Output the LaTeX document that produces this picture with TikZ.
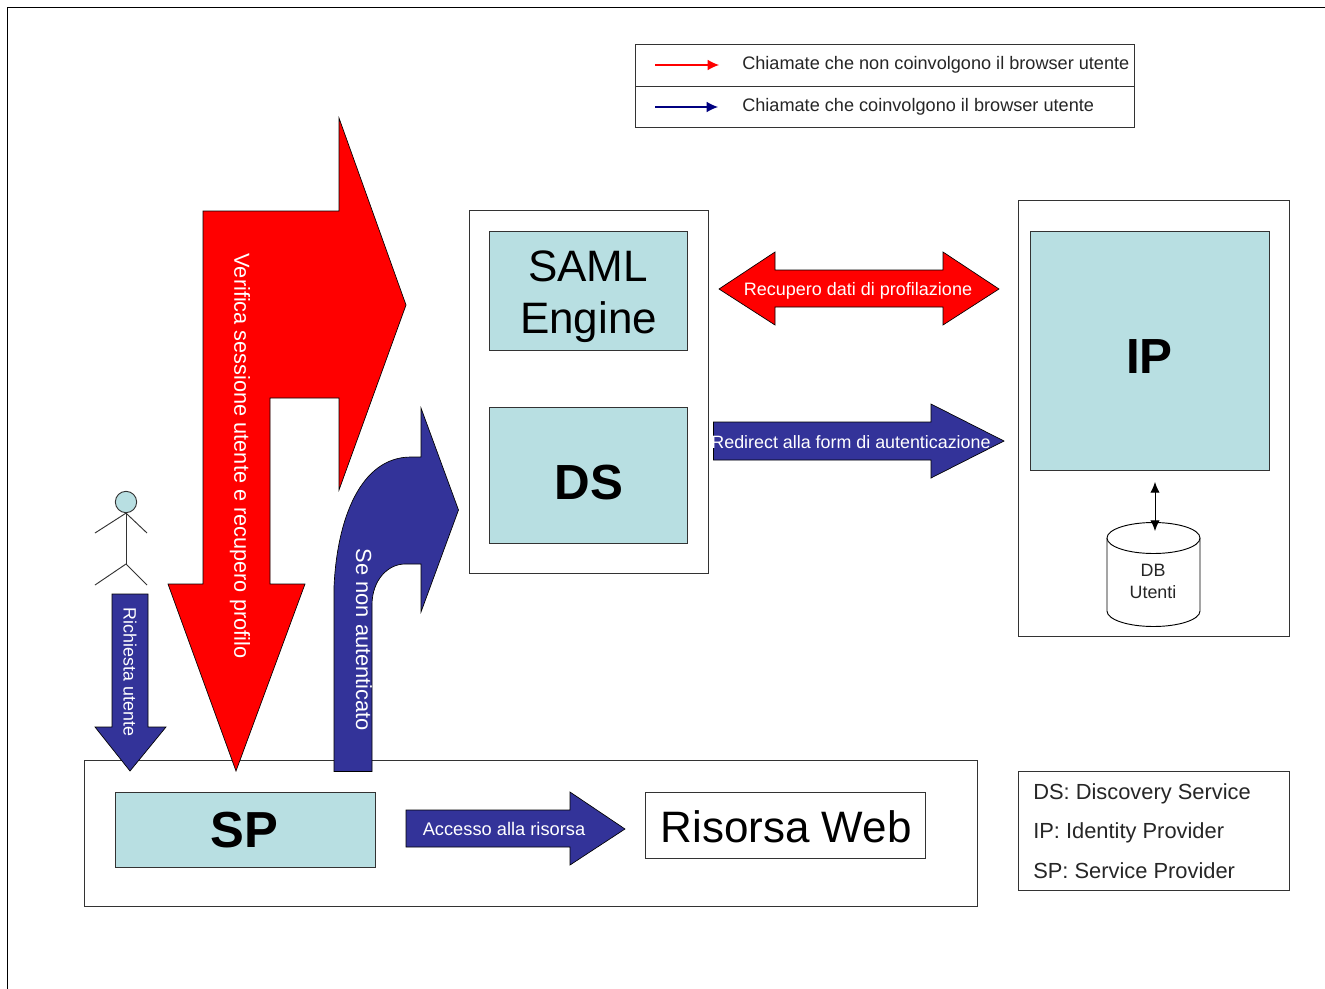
\documentclass[tikz,border=0pt]{standalone}
\usepackage{fontspec}
\setmainfont{Liberation Sans}
\usetikzlibrary{shapes.geometric,arrows.meta}
\definecolor{tealbox}{HTML}{B8DFE2}
\definecolor{navyarrow}{HTML}{333399}
\definecolor{redarrow}{HTML}{FF0000}
\definecolor{edge}{HTML}{333333}
\newcommand{\fs}[1]{\fontsize{#1}{#1}\selectfont}
\tikzset{
  frame/.style={draw=edge,line width=0.75pt,fill=white},
  boxt/.style={draw=edge,line width=0.65pt,fill=tealbox,inner sep=0pt,align=center},
  boxw/.style={draw=edge,line width=0.65pt,fill=white,inner sep=0pt,align=center},
  redshape/.style={fill=redarrow,draw=black,line width=0.5pt,line join=miter},
  blueshape/.style={fill=navyarrow,draw=black,line width=0.5pt,line join=miter},
  lab/.style={text=white,inner sep=0pt},
  stick/.style={draw=edge,line width=0.7pt},
  keytip/.style={-{Latex[length=8.5pt,width=8pt]},line width=0.8pt},
}
\begin{document}
\begin{tikzpicture}[x=0.75pt,y=-0.75pt]
\useasboundingbox (0,0) rectangle (1325,989);
\fill[white] (0,0) rectangle (1325,989);
% outer page frame
\draw[black,line width=1.2pt] (7.5,989) -- (7.5,7.5) -- (1325,7.5);

% legend
\draw[frame,fill=white] (635.5,44.5) rectangle (1134.5,127);
\draw[edge,line width=0.75pt] (635.5,86) -- (1134.5,86);
\coordinate (l1a) at (655,65); \coordinate (l1b) at (719,65);
\coordinate (l2a) at (655,107); \coordinate (l2b) at (718,107);
\draw[red,keytip] (l1a) -- (l1b);
\draw[blue!50!black,keytip] (l2a) -- (l2b);
\node[anchor=west,inner sep=0pt,text=black!85] (t1) at (742,65) {\fs{13.6}Chiamate che non coinvolgono il browser utente};
\node[anchor=west,inner sep=0pt,text=black!85] (t2) at (742,107) {\fs{13.6}Chiamate che coinvolgono il browser utente};

% SP container
\draw[frame] (84.5,760.5) rectangle (977.5,906);
\node[boxt,minimum width=195pt,minimum height=56.25pt] (sp) at (245.5,829.5) {};
\node[inner sep=0pt] (sptext) at (244,830) {\fs{38}\bfseries SP};
\node[boxw,minimum width=210pt,minimum height=49.5pt] (web) at (785.5,825) {};
\node[inner sep=0pt] (webtext) at (786,826.5) {\fs{33}Risorsa Web};

% Accesso arrow
\draw[blueshape] (406,810) -- (570,810) -- (570,792) -- (625,829) -- (570,865) -- (570,847) -- (406,847) -- cycle;
\node[lab] (acc) at (504,829) {\fs{13.7}Accesso alla risorsa};

% SAML / DS container
\draw[frame] (469.5,210.5) rectangle (708.5,573.5);
\node[boxt,minimum width=198pt,minimum height=119pt,minimum width=148.5pt,minimum height=89.25pt] (saml) at (588.5,291) {};
\node[inner sep=0pt] (samltext) at (588,266) {\fs{33}SAML};
\node[inner sep=0pt] (engtext) at (588.5,322) {\fs{33}Engine};
\node[boxt,minimum width=148.5pt,minimum height=102pt] (ds) at (588.5,475.5) {};
\node[inner sep=0pt] (dstext) at (589,483) {\fs{37}\bfseries DS};

% IP container
\draw[frame] (1018.5,200) rectangle (1289.5,636.5);
\node[boxt,minimum width=179.25pt,minimum height=179.25pt] (ip) at (1149.5,351) {};
\node[inner sep=0pt] (iptext) at (1149.5,357) {\fs{37}\bfseries IP};

% DB cylinder
\draw[draw=black,line width=0.7pt,fill=white] (1107,538) -- (1107,611) arc[x radius=46.5,y radius=15.5,start angle=180,end angle=0] -- (1200,538);
\draw[draw=black,line width=0.7pt,fill=white] (1153.5,538) ellipse[x radius=46.5,y radius=15.5];
\node[inner sep=0pt,align=center,text=black!85] (db) at (1153,581.5) {\fs{13.4}DB\\[5pt]\fs{13.4}Utenti};
\coordinate (dbtop) at (1155,531);
\coordinate (ipbot) at (1155,482);
\draw[black,line width=0.7pt,{Latex[length=8pt,width=7pt]}-{Latex[length=8pt,width=7pt]}] (ipbot) -- (dbtop);

% Legend box bottom-right
\draw[frame] (1018.5,771.5) rectangle (1289.5,890.5);
\node[anchor=west,inner sep=0pt,text=black!85] (k1) at (1033,794) {\fs{16.4}DS: Discovery Service};
\node[anchor=west,inner sep=0pt,text=black!85] (k2) at (1033,833) {\fs{16.4}IP: Identity Provider};
\node[anchor=west,inner sep=0pt,text=black!85] (k3) at (1033,871) {\fs{16.4}SP: Service Provider};

% red double arrow
\draw[redshape] (719,289) -- (775,252) -- (775,270) -- (943,270) -- (943,252) -- (999,289) -- (943,325) -- (943,307) -- (775,307) -- (775,325) -- cycle;
\node[lab] (rec) at (858,291) {\fs{13.5}Recupero dati di profilazione};

% redirect arrow
\draw[blueshape] (713.5,422) -- (931,422) -- (931,404) -- (1004,441) -- (931,478) -- (931,460) -- (713.5,460) -- cycle;
\node[lab] (red) at (851,442) {\fs{13.4}Redirect alla form di autenticazione};

% big red bent arrow
\draw[redshape] (203,584) -- (203,211) -- (339,211) -- (339,118) -- (406,305) -- (339,490) -- (339,398) -- (270,398) -- (270,584) -- (305,584) -- (236,771) -- (168,584) -- cycle;
\node[lab,rotate=-90] (ver) at (240,456) {\fs{16.3}Verifica sessione utente e recupero profilo};

% blue curved arrow
\draw[blueshape] (334,771.5) -- (334,587) .. controls (337,520) and (360,457) .. (411,457) -- (421,457) -- (421,408) -- (458.5,510) -- (421,612) -- (421,564) -- (405,564) .. controls (388,564) and (372,580) .. (372,605) -- (372,771.5) -- cycle;
\node[lab,rotate=-90] (sena) at (364,640) {\fs{16.4}Se non autenticato};

% Richiesta arrow
\draw[blueshape] (112,594) -- (148,594) -- (148,727) -- (166,727) -- (130,771) -- (95,727) -- (112,727) -- cycle;
\node[lab,rotate=-90] (ric) at (130,672) {\fs{13.4}Richiesta utente};

% person
\node[circle,draw=edge,line width=0.7pt,fill=tealbox,minimum size=16pt,inner sep=0pt] (head) at (126,502) {};
\coordinate (hip) at (126,564);
\coordinate (arml) at (95,533); \coordinate (armr) at (147,533);
\coordinate (legl) at (95,585); \coordinate (legr) at (147,585);
\draw[stick] (head.south) -- (hip);
\draw[stick] (head.south) -- (arml);
\draw[stick] (head.south) -- (armr);
\draw[stick] (hip) -- (legl);
\draw[stick] (hip) -- (legr);
\end{tikzpicture}
\end{document}
